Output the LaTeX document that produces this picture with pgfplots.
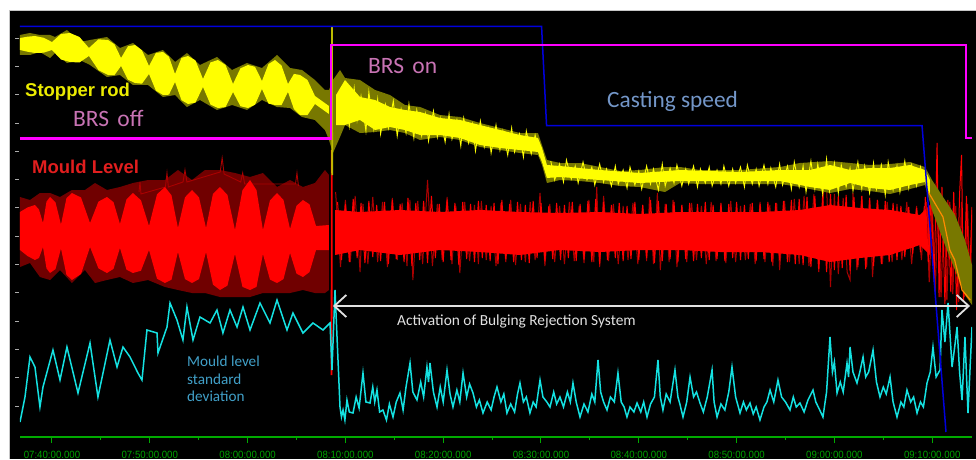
\documentclass[border=0pt]{standalone}
\usepackage{fontspec}
\setmainfont{Carlito}
\newfontfamily\arialfont{Liberation Sans}
\newfontfamily\ticklabelfont{Liberation Sans}[FakeStretch=0.92]
\usepackage{pgfplots}
\pgfplotsset{compat=1.18}
\usetikzlibrary{arrows.meta}
\definecolor{ybright}{RGB}{255,255,0}
\definecolor{yolive}{RGB}{120,120,0}
\definecolor{rbright}{RGB}{255,0,0}
\definecolor{rdark}{RGB}{112,0,0}
\definecolor{rspike}{RGB}{170,0,0}
\definecolor{cyanl}{RGB}{20,225,225}
\definecolor{blueline}{RGB}{0,0,220}
\definecolor{magline}{RGB}{255,0,255}
\definecolor{brstext}{RGB}{200,115,180}
\definecolor{casttext}{RGB}{115,150,200}
\definecolor{mltext}{RGB}{65,160,200}
\definecolor{greenaxis}{RGB}{0,170,0}
\definecolor{greentext}{RGB}{0,165,0}
\definecolor{stoptext}{RGB}{235,235,0}
\definecolor{mouldtext}{RGB}{225,30,30}
\definecolor{arrowc}{RGB}{225,225,225}
\definecolor{orangel}{RGB}{255,140,0}
\begin{document}
\begin{tikzpicture}
\useasboundingbox (0,0) rectangle (976pt,459pt);
\fill[white] (0,0) rectangle (976pt,459pt);
\fill[black] (9pt,0) rectangle (976pt,449pt);
\draw[gray!45,line width=0.8pt] (9.4pt,0) -- (9.4pt,448.6pt) -- (976pt,448.6pt);
\begin{axis}[at={(20pt,27pt)}, anchor=south west, width=952pt, height=419pt, scale only axis,
  xmin=-3.27, xmax=94.07, ymin=0, ymax=419,
  axis line style={draw=gray!65, line width=0.6pt, double=black, double distance=1.6pt},
  xtick=\empty,
  ytick={26.1,54.4,82.7,111,139.3,167.6,195.9,224.2,252.5,280.8,309.1,337.4,365.7,394},
  yticklabels={}, ytick pos=left, tick align=outside, major tick length=5pt,
  tick style={draw=gray!65, line width=0.8pt}]
% BRS cursor line
\addplot[gray!55, line width=0.8pt] coordinates {(28.6,60) (28.6,280)};
% ---- Mould level, before BRS: envelope and bright beads
\addplot[draw=none, fill=rdark] coordinates {(-3.27,235) (-2.25,232) (-1.23,239) (-0.20,239) (0.82,235) (2.04,242) (3.37,242) (4.40,249) (5.62,242) (6.95,245) (8.28,249) (9.82,252) (11.55,252) (12.88,262) (14.32,252) (15.64,262) (17.18,262) (18.71,259) (20.25,255) (21.57,259) (23.01,245) (24.34,252) (25.66,245) (26.89,249) (27.91,262) (28.32,257)
 (28.32,142) (27.91,139) (26.89,139) (25.66,142) (24.34,139) (23.01,139) (21.57,139) (20.25,135) (18.71,135) (17.18,135) (15.64,139) (14.32,139) (12.88,142) (11.55,145) (9.82,152) (8.28,149) (6.95,155) (5.62,152) (4.40,149) (3.37,162) (2.04,149) (0.82,162) (-0.20,152) (-1.23,155) (-2.25,169) (-3.27,165)} -- cycle;
\addplot[rspike, line width=0.9pt] coordinates {(8.9,240) (9.0,250) (9.1,238) (11.6,245) (11.76,259) (11.9,245) (13.4,250) (13.6,262) (13.8,250) (17.2,260) (17.4,274) (17.6,258) (19.3,250) (19.5,259) (19.7,248) (24.9,248) (25.05,259) (25.2,246)};
\addplot[draw=none, fill=rbright] coordinates {(-3.27,220) (-2.51,224.5) (-1.74,227) (-1.33,222.5) (-0.92,209) (-0.56,230.4) (-0.20,235) (0.36,229.7) (0.92,207.5) (1.48,233.8) (2.04,239) (2.97,234.5) (3.89,209) (4.75,230.4) (5.62,235) (6.29,229.9) (6.95,208) (7.62,232.7) (8.28,239) (9.10,231.7) (9.92,206) (10.74,237.7) (11.55,245) (12.22,236.7) (12.88,204) (13.60,234.7) (14.32,242) (15.03,234.7) (15.75,204) (16.46,238.1) (17.18,245) (17.94,237.1) (18.71,202) (19.48,241.9) (20.25,252) (20.91,241.9) (21.57,202) (22.29,231.6) (23.01,239) (23.67,232.1) (24.34,203) (25.00,226.2) (25.66,232) (26.33,227.7) (27.00,206) (28.32,207)
 (28.32,182) (27.00,182) (26.33,159.9) (25.66,155) (25.00,158.4) (24.34,179) (23.67,152.9) (23.01,149) (22.29,152.4) (21.57,178) (20.91,145.1) (20.25,142) (19.48,145.1) (18.71,178) (17.94,146.4) (17.18,142) (16.46,147.4) (15.75,180) (15.03,152.9) (14.32,149) (13.60,152.9) (12.88,180) (12.22,152.3) (11.55,149) (10.74,153.3) (9.92,182) (9.10,161.3) (8.28,159) (7.62,162.3) (6.95,184) (6.29,163.1) (5.62,159) (4.75,163.6) (3.89,185) (2.97,158) (2.04,152) (1.48,157.2) (0.92,183.5) (0.36,162.9) (-0.20,159) (-0.56,163.6) (-0.92,185) (-1.33,174) (-1.74,172) (-2.51,176) (-3.27,182)} -- cycle;
% ---- Mould level, after BRS: spikes, core, noise
\addplot[rspike, line width=1pt] coordinates {(29.0,240) (29.5,165) (30.0,232) (30.5,170) (31.0,236) (31.5,160) (31.8,228) (32.3,168) (32.8,235) (33.3,170) (33.8,230) (34.3,165) (34.8,234) (35.3,172) (35.8,229) (36.3,166) (36.6,232) (36.9,152) (37.4,231) (37.9,168) (38.4,252) (38.9,166) (39.4,228) (39.9,172) (40.4,235) (40.9,168) (41.3,226) (41.7,159) (42.2,230) (42.7,171) (43.2,227) (43.6,168) (43.9,231) (44.4,172) (44.9,226) (45.4,166) (45.9,229) (46.4,170) (46.9,232) (47.4,167) (47.9,228) (48.4,170) (48.9,230) (49.4,172) (49.9,239) (50.4,166) (50.9,228) (51.4,170) (51.9,226) (52.4,168) (52.9,230) (53.4,171) (53.9,226) (54.4,169) (54.9,232) (55.4,170) (55.7,245) (56.0,165) (56.4,236) (56.9,171) (57.4,228) (57.9,168) (58.4,226) (58.9,172) (59.4,229) (59.9,168) (60.4,227) (60.8,171) (61.1,235) (61.5,168) (61.9,239) (62.2,162) (62.7,228) (63.1,170) (63.5,232) (63.9,165) (64.4,227) (64.9,170) (65.4,229) (65.9,172) (66.4,226) (66.9,168) (67.4,230) (67.9,171) (68.4,227) (68.9,169) (69.4,231) (69.9,170) (70.4,226) (70.9,172) (71.4,228) (71.9,168) (72.4,230) (72.9,170) (73.4,227) (73.7,166) (74.1,229) (74.4,162) (74.9,231) (75.4,170) (75.9,233) (76.4,168) (76.9,236) (77.4,166) (77.9,238) (78.4,160) (78.9,240) (79.2,245) (79.6,145) (80.0,238) (80.4,158) (80.9,234) (81.3,160) (81.6,152) (81.9,239) (82.3,162) (82.8,236) (83.3,165) (83.6,234) (83.9,155) (84.4,232) (84.9,168) (85.4,230) (85.9,170) (86.4,228) (86.9,172) (87.4,230) (87.9,168) (88.4,226) (88.9,172) (89.3,235)};
\addplot[draw=none, fill=rbright] coordinates {(28.94,222) (31.49,220) (35.58,222) (39.67,220) (43.76,222) (47.85,220) (51.94,219) (56.03,220) (60.12,218) (64.21,220) (68.30,220) (72.39,220) (76.48,222) (79.55,227) (82.62,224) (85.69,222) (88.75,217) (89.77,227)
 (89.77,177) (88.75,187) (85.69,177) (82.62,174) (79.55,170) (76.48,177) (72.39,180) (68.30,180) (64.21,182) (60.12,182) (56.03,180) (51.94,182) (47.85,177) (43.76,180) (39.67,182) (35.58,177) (31.49,182) (28.94,177)} -- cycle;
\addplot[rbright, line width=1pt] coordinates {(29.2,230) (29.6,172) (30.0,228) (30.4,170) (30.8,233) (31.2,174) (31.6,229) (32.0,169) (32.4,231) (32.8,175) (33.2,227) (33.6,171) (34.0,230) (34.4,168) (34.8,232) (35.2,173) (35.6,228) (36.0,170) (36.4,234) (36.8,166) (37.2,229) (37.6,172) (38.0,231) (38.4,169) (38.8,236) (39.2,174) (39.6,228) (40.0,170) (40.4,232) (40.8,172) (41.2,229) (41.6,167) (42.0,230) (42.4,173) (42.8,228) (43.2,170) (43.6,231) (44.0,174) (44.4,227) (44.8,171) (45.2,229) (45.6,168) (46.0,232) (46.4,173) (46.8,228) (47.2,170) (47.6,230) (48.0,172) (48.4,227) (48.8,169) (49.2,231) (49.6,174) (50.0,229) (50.4,171) (50.8,226) (51.2,173) (51.6,229) (52.0,172) (52.4,227) (52.8,174) (53.2,230) (53.6,171) (54.0,228) (54.4,173) (54.8,231) (55.2,170) (55.6,233) (56.0,168) (56.4,230) (56.8,172) (57.2,227) (57.6,174) (58.0,229) (58.4,171) (58.8,226) (59.2,173) (59.6,230) (60.0,172) (60.4,227) (60.8,174) (61.2,232) (61.6,169) (62.0,231) (62.4,171) (62.8,228) (63.2,173) (63.6,230) (64.0,170) (64.4,227) (64.8,173) (65.2,229) (65.6,171) (66.0,228) (66.4,174) (66.8,230) (67.2,172) (67.6,227) (68.0,173) (68.4,229) (68.8,171) (69.2,228) (69.6,174) (70.0,230) (70.4,172) (70.8,227) (71.2,173) (71.6,229) (72.0,171) (72.4,228) (72.8,173) (73.2,230) (73.6,170) (74.0,229) (74.4,172) (74.8,231) (75.2,170) (75.6,232) (76.0,168) (76.4,233) (76.8,167) (77.2,235) (77.6,165) (78.0,236) (78.4,163) (78.8,237) (79.2,160) (79.6,238) (80.0,162) (80.4,236) (80.8,164) (81.2,237) (81.6,161) (82.0,235) (82.4,165) (82.8,236) (83.2,163) (83.6,234) (84.0,166) (84.4,232) (84.8,168) (85.2,231) (85.6,170) (86.0,229) (86.4,172) (86.8,226) (87.2,175) (87.6,225) (88.0,178) (88.4,224) (88.8,180) (89.2,226)};
% right end
\addplot[rspike, line width=1.2pt] coordinates {(89.4,230) (89.7,150) (90.0,228) (90.3,140) (90.6,232) (90.9,135) (91.2,225) (91.5,132) (91.8,230) (92.1,138) (92.4,226) (92.7,130) (93.0,230) (93.3,135) (93.6,228) (93.9,140) (94.07,222)};
\addplot[rbright, line width=1pt] coordinates {(89.3,235) (89.6,170) (89.9,240) (90.2,150) (90.5,289) (90.7,135) (91.0,245) (91.3,128) (91.6,232) (91.9,140) (92.2,240) (92.5,122) (92.8,238) (93.0,277) (93.2,130) (93.5,236) (93.8,145) (94.07,225)};
% BRS spike of mould level
\addplot[rbright, line width=1.8pt] coordinates {(28.58,57) (28.62,282)};
\addplot[orangel, line width=1.8pt] coordinates {(28.62,282) (28.62,259)};
% ---- Stopper rod: envelope and bright core
\addplot[draw=none, fill=yolive] coordinates {(-3.27,397) (-2.25,399) (-1.23,397) (-0.20,397) (0.31,395) (1.53,402) (2.86,390) (3.89,392) (5.62,395) (6.95,384) (8.28,389) (9.82,377) (11.35,382) (12.58,370) (13.80,379) (15.13,367) (16.87,375) (18.41,362) (19.94,369) (21.47,364) (23.01,377) (24.34,364) (25.56,362) (26.89,352) (27.91,342) (28.32,342) (28.73,352) (29.45,362) (29.96,354) (31.49,352) (33.03,342) (34.56,337) (36.09,327) (37.63,325) (39.67,317) (41.72,315) (43.76,309) (45.81,304) (47.85,299) (49.69,299) (50.10,287) (50.61,272) (51.94,269) (53.99,269) (56.03,265) (58.08,261) (60.12,262) (62.68,265) (64.21,265) (66.26,262) (70.35,262) (74.44,265) (76.48,269) (79.55,271) (81.60,269) (83.64,267) (85.69,268) (87.73,270) (89.26,265) (89.98,252) (91.31,232) (92.33,217) (93.35,192) (94.07,167)
 (94.07,127) (93.35,137) (92.33,162) (91.31,187) (89.98,222) (89.26,247) (87.73,243) (85.69,238) (83.64,241) (81.60,243) (79.55,239) (76.48,245) (74.44,248) (70.35,248) (66.26,248) (64.21,249) (62.68,240) (60.12,245) (58.08,246) (56.03,249) (53.99,251) (51.94,252) (50.61,249) (50.10,267) (49.69,277) (47.85,279) (45.81,282) (43.76,285) (41.72,292) (39.67,295) (37.63,292) (36.09,299) (34.56,302) (33.03,300) (31.49,299) (29.96,307) (29.45,295) (28.73,279) (28.32,292) (27.91,302) (26.89,312) (25.56,315) (24.34,324) (23.01,325) (21.47,332) (19.94,322) (18.41,327) (16.87,322) (15.13,332) (13.80,325) (12.58,337) (11.35,335) (9.82,347) (8.28,347) (6.95,357) (5.62,355) (3.89,367) (2.86,372) (1.53,369) (0.31,379) (-0.20,374) (-1.23,380) (-2.25,377) (-3.27,377)} -- cycle;
\addplot[draw=none, fill=ybright] coordinates {(-3.27,394) (-2.51,395.3) (-1.74,396) (-0.87,394.3) (0.00,390) (0.92,398) (1.84,399) (2.81,395) (3.78,384) (4.75,392.7) (5.73,392) (6.39,387.7) (7.06,374) (7.77,385.7) (8.49,387) (9.20,381.7) (9.92,366) (10.63,379.2) (11.35,380) (11.96,375.2) (12.58,358) (13.24,374.1) (13.91,376) (14.67,371.6) (15.44,353) (16.21,369.6) (16.97,372) (17.74,367.1) (18.51,348) (19.27,363.7) (20.04,367) (20.76,365.2) (21.47,351) (22.14,368) (22.80,372) (23.47,366.5) (24.13,348) (24.74,358.1) (25.36,357) (26.12,352.1) (26.89,336) (28.32,326)
 (28.32,318) (26.89,328) (26.12,316.9) (25.36,317) (24.74,322.9) (24.13,340) (23.47,327) (22.80,327) (22.14,328.4) (21.47,343) (20.76,327.3) (20.04,324) (19.27,325.8) (18.51,340) (17.74,324.9) (16.97,324) (16.21,327.4) (15.44,345) (14.67,329.4) (13.91,328) (13.24,331.9) (12.58,350) (11.96,337.3) (11.35,337) (10.63,341.3) (9.92,358) (9.20,348.3) (8.49,349) (7.77,352.3) (7.06,366) (6.39,356.9) (5.73,357) (4.75,361.9) (3.78,376) (2.81,369.5) (1.84,370) (0.92,372.5) (0.00,382) (-0.87,379.3) (-1.74,379) (-2.51,380.3) (-3.27,382)} -- cycle;
\addplot[draw=none, fill=ybright] coordinates {(29.04,337) (29.96,352) (31.49,335) (33.03,332) (34.56,325) (36.09,322) (37.63,320) (39.67,314) (41.72,312) (43.76,307) (45.81,302) (47.85,297) (49.69,294) (50.10,284) (50.61,267) (51.94,266) (56.03,262) (60.12,259) (64.21,262) (70.35,260) (74.44,262) (77.51,262) (79.55,267) (81.60,262) (83.64,264) (85.69,264) (87.73,267) (89.26,262) (89.77,252)
 (89.77,237) (89.26,250) (87.73,247) (85.69,242) (83.64,244) (81.60,249) (79.55,242) (77.51,245) (74.44,251) (70.35,251) (64.21,251) (60.12,249) (56.03,252) (51.94,255) (50.61,254) (50.10,270) (49.69,280) (47.85,282) (45.81,284) (43.76,287) (41.72,294) (39.67,297) (37.63,297) (36.09,302) (34.56,305) (33.03,302) (31.49,312) (29.96,307) (29.04,307)} -- cycle;
\addplot[ybright, line width=0.9pt] coordinates {(30.0,348) (30.4,306) (30.9,344) (31.2,312) (31.6,336) (32.1,301) (32.4,340) (32.9,303) (33.3,333) (33.6,298) (34.1,327) (34.4,304) (34.9,331) (35.3,296) (35.7,323) (36.2,299) (36.5,328) (37.0,294) (37.3,322) (37.8,296) (38.2,318) (38.5,291) (39.0,321) (39.4,295) (39.7,314) (40.2,290) (40.6,318) (40.9,293) (41.4,312) (41.8,286) (42.1,314) (42.6,289) (43.0,308) (43.3,281) (43.8,311) (44.2,285) (44.6,303) (44.9,279) (45.4,307) (45.8,282) (46.1,301) (46.6,277) (47.0,304) (47.3,280) (47.8,298) (48.2,275) (48.5,301) (49.0,278) (49.4,297) (49.9,275)};
\addplot[ybright, line width=0.9pt] coordinates {(51.0,271) (51.4,252) (51.9,268) (52.3,250) (52.6,272) (53.1,253) (53.5,266) (53.8,249) (54.3,270) (54.7,252) (55.2,265) (55.5,247) (56.0,268) (56.4,250) (56.7,263) (57.2,246) (57.6,266) (57.9,248) (58.4,262) (58.8,244) (59.1,265) (59.6,247) (60.0,261) (60.3,243) (60.8,266) (61.2,248) (61.5,263) (62.0,242) (62.4,268) (62.7,246) (63.2,264) (63.6,249) (63.9,267) (64.4,246) (64.8,263) (65.1,248) (65.6,266) (66.0,245) (66.3,263) (66.8,249) (67.2,265) (67.5,246) (68.0,262) (68.4,248) (68.7,266) (69.2,246) (69.6,263) (69.9,249) (70.4,265) (70.8,245) (71.1,267) (71.6,248) (72.0,263) (72.3,246) (72.8,267) (73.2,248) (73.5,264) (74.0,245) (74.4,268) (74.7,247) (75.2,266) (75.6,243) (75.9,270) (76.4,245) (76.8,266) (77.1,240) (77.6,271) (78.0,243) (78.3,268) (78.8,238) (79.2,273) (79.5,241) (80.0,269) (80.4,239) (80.7,267) (81.2,245) (81.6,264) (81.9,241) (82.4,270) (82.8,243) (83.1,266) (83.6,239) (84.0,269) (84.3,243) (84.8,267) (85.2,237) (85.5,270) (86.0,242) (86.4,266) (86.7,240) (87.2,271) (87.6,244) (87.9,267) (88.4,246) (88.8,265) (89.1,250)};
\addplot[yolive!50!ybright, line width=1.6pt] coordinates {(28.63,405) (28.66,257)};
\addplot[orangel, line width=1.2pt] coordinates {(89.6,240) (90.5,225) (91.1,215) (91.8,182) (92.3,172) (93.05,142) (93.9,132)};
% ---- Mould level standard deviation
\addplot[cyanl, line width=1.5pt] coordinates {(-3.27,10) (-2.76,35) (-2.25,75) (-1.74,65) (-1.23,25) (-0.92,45) (0.10,82) (0.82,52) (1.53,85) (2.66,39) (3.89,89) (4.70,35) (5.93,92) (6.65,65) (7.26,85) (7.98,75) (8.79,59) (9.20,52) (9.71,102) (10.74,99) (10.84,79) (11.76,105) (12.07,129) (12.78,112) (13.39,92) (13.80,125) (14.42,92) (15.13,115) (16.16,109) (16.87,122) (17.48,99) (18.20,122) (18.92,105) (19.53,125) (20.25,102) (21.27,129) (22.29,109) (23.01,132) (24.03,102) (24.64,119) (25.66,99) (26.69,109) (27.71,102) (28.43,109) (28.63,62) (28.94,142) (29.45,25)
 (29.6,15) (29.76,22) (29.95,12) (30.16,32) (30.4,20) (30.78,19) (31.1,35) (31.4,24) (31.80,59) (32.1,30) (32.52,29) (32.8,45) (33.0,30) (33.23,42) (33.5,20) (33.84,22) (34.2,12) (34.5,28) (34.87,15) (35.2,30) (35.58,39) (35.9,22) (36.2,45) (36.61,69) (36.9,40) (37.32,32) (37.7,50) (38.0,35) (38.34,65) (38.5,50) (38.65,69) (39.0,40) (39.37,25) (39.7,45) (40.0,30) (40.39,62) (40.7,38) (41.00,25) (41.4,42) (41.7,30) (42.03,59) (42.4,35) (42.7,48) (43.05,39) (43.4,25) (43.7,32) (44.07,19) (44.5,30) (44.9,22) (45.2,35) (45.50,45) (45.9,30) (46.2,38) (46.52,19) (46.9,28) (47.3,20) (47.6,38) (47.85,49) (48.2,30) (48.5,35) (48.87,19) (49.2,30) (49.5,25) (49.90,52) (50.2,35) (50.6,30) (50.92,25) (51.3,40) (51.6,28) (51.94,35) (52.3,25) (52.7,40) (53.0,30) (53.27,49) (53.6,30) (53.99,15) (54.4,28) (54.8,20) (55.2,38) (55.5,30) (55.83,72) (56.1,40) (56.4,30) (56.75,22) (57.1,35) (57.5,30) (57.87,59) (58.2,30) (58.5,25) (58.79,15) (59.1,25) (59.5,20) (59.82,29) (60.2,20) (60.5,30) (60.84,15) (61.2,28) (61.6,35) (61.96,72) (62.2,35) (62.47,22) (62.8,38) (63.2,30) (63.70,62) (64.0,35) (64.2,28) (64.52,15) (64.9,30) (65.24,55) (65.6,35) (65.9,40) (66.26,29) (66.6,20) (67.0,35) (67.49,62) (67.7,30) (68.00,15) (68.4,28) (68.8,22) (69.2,40) (69.53,65) (69.9,35) (70.35,19) (70.7,30) (71.0,22) (71.37,29) (71.7,18) (72.0,25) (72.39,12) (72.8,25) (73.1,30) (73.42,42) (73.8,30) (74.23,52) (74.6,35) (75.0,30) (75.46,22) (75.8,35) (76.1,25) (76.48,29) (76.9,20) (77.3,32) (77.81,42) (78.1,30) (78.5,22) (78.83,15) (79.2,40) (79.55,95) (79.8,60) (80.0,70) (80.27,39) (80.6,50) (80.9,40) (81.29,69) (81.45,55) (81.60,85) (81.9,60) (82.31,49) (82.6,60) (82.93,75) (83.2,55) (83.5,60) (83.95,82) (84.3,50) (84.66,35) (85.0,45) (85.3,38) (85.69,55) (86.0,30) (86.40,15) (86.8,30) (87.1,25) (87.42,42) (87.8,30) (88.1,35) (88.45,19) (88.8,30) (89.1,25) (89.47,49) (89.8,60) (90.08,85) (90.4,55) (90.80,62) (91.00,122) (91.3,90) (91.62,129) (92.03,65) (92.3,85) (92.54,105) (92.8,60) (93.05,32) (93.35,95) (93.66,19) (93.9,70) (94.07,105)};
% ---- Casting speed
\addplot[blueline, line width=1.5pt] coordinates {(-3.27,405.5) (50.06,405.5) (50.57,306.5) (88.96,306.5) (91.41,0)};
% ---- BRS state
\addplot[magline, line width=2.2pt] coordinates {(-3.27,293.5) (28.5,293.5) (28.5,387) (93.46,387) (93.46,294) (94.07,294)};
% ---- annotations
\draw[arrowc, line width=1.8pt, {Straight Barb[length=12pt,width=22pt,line width=1.8pt]}-{Straight Barb[length=12pt,width=22pt,line width=1.8pt]}] (axis cs:28.73,126) -- (axis cs:93.87,126);
\node[anchor=base west, inner sep=0pt, text=stoptext, font=\arialfont\bfseries\fontsize{18.5}{20}\selectfont] at (axis cs:-2.76,335.3) {Stopper rod};
\node[anchor=base west, inner sep=0pt, text=brstext, font=\fontsize{23.5}{26}\selectfont] at (axis cs:2.15,305.3) {BRS\hspace{0.35em}off};
\node[anchor=base west, inner sep=0pt, text=mouldtext, font=\arialfont\bfseries\fontsize{18.5}{20}\selectfont] at (axis cs:-2.04,258.7) {Mould Level};
\node[anchor=base west, inner sep=0pt, text=brstext, font=\fontsize{23.5}{26}\selectfont] at (axis cs:32.31,358.7) {BRS\hspace{0.35em}on};
\node[anchor=base west, inner sep=0pt, text=casttext, font=\fontsize{23.3}{26}\selectfont] at (axis cs:56.75,324.7) {Casting speed};
\node[anchor=base west, inner sep=0pt, text=arrowc, font=\fontsize{15.4}{18}\selectfont] at (axis cs:35.28,106.3) {Activation of Bulging Rejection System};
\node[anchor=base west, inner sep=0pt, text=mltext, font=\fontsize{15.2}{18}\selectfont] at (axis cs:13.80,66) {Mould level};
\node[anchor=base west, inner sep=0pt, text=mltext, font=\fontsize{15.2}{18}\selectfont] at (axis cs:13.80,47.7) {standard};
\node[anchor=base west, inner sep=0pt, text=mltext, font=\fontsize{15.2}{18}\selectfont] at (axis cs:13.80,30.3) {deviation};
\end{axis}
% time axis
\begin{axis}[at={(20pt,22pt)}, anchor=south west, width=952pt, height=10pt, scale only axis,
  xmin=-3.27, xmax=94.07, ymin=0, ymax=1,
  axis x line=bottom, axis y line=none,
  x axis line style={-, draw=greenaxis, line width=1.3pt},
  xtick={0,10,...,90}, minor xtick={5,15,...,85},
  xticklabels={07:40:00.000,07:50:00.000,08:00:00.000,08:10:00.000,08:20:00.000,08:30:00.000,08:40:00.000,08:50:00.000,09:00:00.000,09:10:00.000},
  tick align=outside, major tick length=6pt, minor tick length=3pt,
  tick style={draw=greenaxis, line width=1pt},
  xticklabel style={font=\ticklabelfont\fontsize{10.5}{10.5}\selectfont, text=greentext, anchor=base, yshift=-15.2pt}]
\end{axis}
\end{tikzpicture}
\end{document}
